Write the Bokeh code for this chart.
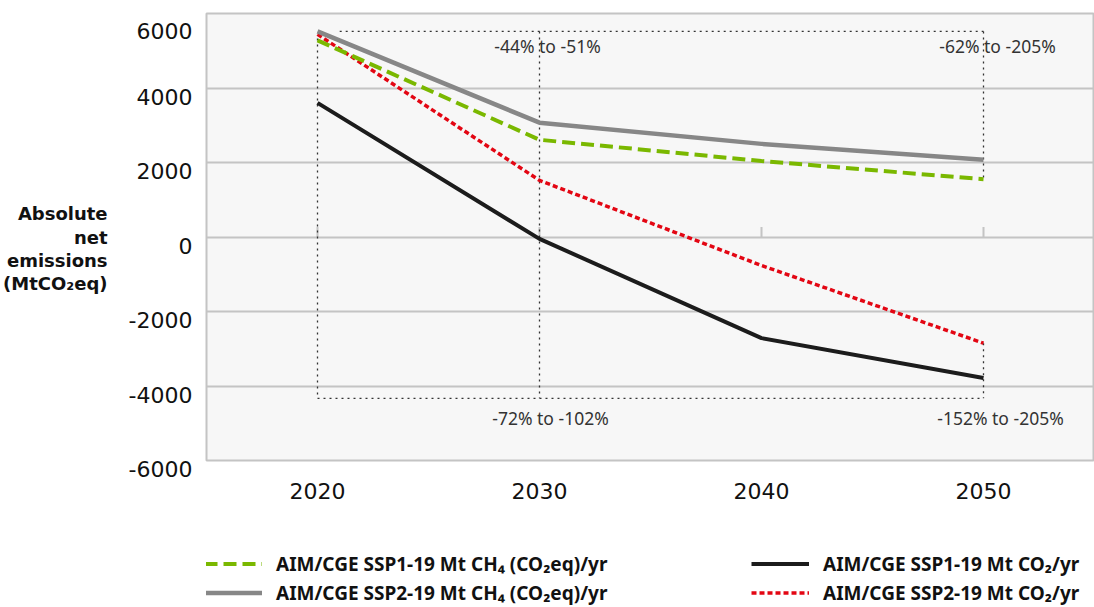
from bokeh.plotting import figure
from bokeh.layouts import column
from bokeh.models import Range1d, FixedTicker, Legend, LegendItem
from bokeh.embed import file_html
from bokeh.resources import INLINE
from bokeh.core.properties import value

# ---------------- data ----------------
years = [2020, 2030, 2040, 2050]
ssp1_ch4 = [5280, 2610, 2040, 1550]     # AIM/CGE SSP1-19 Mt CH4 (CO2eq)/yr
ssp2_ch4 = [5520, 3070, 2500, 2075]     # AIM/CGE SSP2-19 Mt CH4 (CO2eq)/yr
ssp1_co2 = [3600, -50, -2715, -3785]    # AIM/CGE SSP1-19 Mt CO2/yr
ssp2_co2 = [5440, 1520, -765, -2850]    # AIM/CGE SSP2-19 Mt CO2/yr

y_ticks = [-6000, -4000, -2000, 0, 2000, 4000, 6000]
x_ticks = years

names = ["AIM/CGE SSP1-19 Mt CH\u2084 (CO\u2082eq)/yr",
         "AIM/CGE SSP2-19 Mt CH\u2084 (CO\u2082eq)/yr",
         "AIM/CGE SSP1-19 Mt CO\u2082/yr",
         "AIM/CGE SSP2-19 Mt CO\u2082/yr"]

annot_texts = ["-44% to -51%", "-62% to -205%", "-72% to -102%", "-152% to -205%"]
annot_years = [2030, 2050, 2030, 2050]
annot_levels = [5130, 5130, -4860, -4860]
annot_dx = [8, 14, 11, 17]

box_bottom = -4330
box_top = max(ssp2_ch4)
left_top = ssp1_ch4[0] + 50

FONT = "DejaVu Sans"

styles = {
    "green": dict(line_color="#7ab800", line_width=4, line_dash="13 6"),
    "gray": dict(line_color="#878787", line_width=4.5),
    "black": dict(line_color="#1c1c1c", line_width=4),
    "red": dict(line_color="#e30613", line_width=3.5, line_dash="5 3"),
}
series = {"green": ssp1_ch4, "gray": ssp2_ch4, "black": ssp1_co2, "red": ssp2_co2}

p = figure(width=1094, height=548,
           x_range=Range1d(2015, 2055), y_range=Range1d(-6000, 6000),
           output_backend="svg", toolbar_location=None,
           min_border_left=205, min_border_right=0, min_border_top=13,
           min_border_bottom=88,
           background_fill_color="#f7f7f7", border_fill_color="white",
           outline_line_color="#c4c4c4", outline_line_width=2)

p.xgrid.visible = False
p.ygrid.ticker = FixedTicker(ticks=y_ticks)
p.ygrid.grid_line_color = "#c4c4c4"
p.ygrid.grid_line_width = 2

for ax in (p.xaxis[0], p.yaxis[0]):
    ax.axis_line_color = None
    ax.major_tick_line_color = None
    ax.minor_tick_line_color = None
    ax.major_label_text_font = FONT
    ax.major_label_text_font_size = "22px"
    ax.major_label_text_color = "#111111"

p.xaxis.ticker = FixedTicker(ticks=x_ticks)
p.xaxis.major_label_standoff = 16

p.yaxis.ticker = FixedTicker(ticks=y_ticks)
p.yaxis.major_label_standoff = 8
p.yaxis.major_label_overrides = {t: "\n" + str(t) for t in y_ticks}
p.yaxis.major_label_text_line_height = 0.75

ylab = "\nAbsolute\nnet\nemissions\n(MtCO\u2082eq)"
yax = p.yaxis[0]
yax.axis_label = ylab
yax.axis_label_orientation = "horizontal"
yax.axis_label_standoff = 18
yax.axis_label_text_font = FONT
yax.axis_label_text_font_size = "18px"
yax.axis_label_text_font_style = "bold"
yax.axis_label_text_color = "#111111"
yax.axis_label_text_line_height = 1.1
yax.axis_label_text_align = "center"

# small tick marks on the zero line
p.ray(x=x_ticks, y=[0] * len(x_ticks), length=10, length_units="screen",
      angle=90, angle_units="deg", line_color="#c4c4c4", line_width=2)

# dotted reference box
seg_x = [[2021, 2050], [2020, 2020], [2030, 2030], [2050, 2050], [2050, 2050], [2020, 2050]]
seg_y = [[box_top, box_top], [left_top, box_bottom], [box_top, box_bottom],
         [box_top, ssp1_ch4[-1]], [ssp2_co2[-1], box_bottom], [box_bottom, box_bottom]]
p.multi_line(xs=seg_x, ys=seg_y, line_color="#333333", line_width=1.3, line_dash="2 4")

p.text(x=annot_years, y=annot_levels, text=annot_texts, x_offset=annot_dx,
       text_align="center", text_baseline="middle",
       text_font=value("Noto Sans"), text_font_size="17.5px", text_color="#333333")

for k in ("black", "red", "gray", "green"):
    p.line(years, series[k], **styles[k])

# ---------------- legend strip (frame aligned with the chart) ----------------
lg = figure(width=1094, height=59, x_range=Range1d(0, 1), y_range=Range1d(0, 1),
            output_backend="svg", toolbar_location=None,
            min_border_left=0, min_border_right=0, min_border_top=0, min_border_bottom=0,
            outline_line_color=None, background_fill_color="white")
lg.axis.visible = False
lg.grid.visible = False
# same series, far outside this strip's ranges: only their legend glyphs show
lr = {k: lg.line(years, series[k], **s) for k, s in styles.items()}

legend = Legend(items=[LegendItem(label=names[0], renderers=[lr["green"]]),
                       LegendItem(label=names[2], renderers=[lr["black"]]),
                       LegendItem(label=names[1], renderers=[lr["gray"]]),
                       LegendItem(label=names[3], renderers=[lr["red"]])],
                orientation="horizontal", nrows=2, location=(-2, 0),
                glyph_width=58, glyph_height=29, label_height=29, label_width=475,
                label_standoff=14,
                spacing=0, padding=0, margin=0, border_line_color=None,
                background_fill_alpha=0,
                label_text_font="Noto Sans", label_text_font_size="19px",
                label_text_font_style="bold", label_text_color="#111111")
lg.add_layout(legend)

open("out.html", "w").write(file_html(column(p, lg, spacing=0), INLINE))
